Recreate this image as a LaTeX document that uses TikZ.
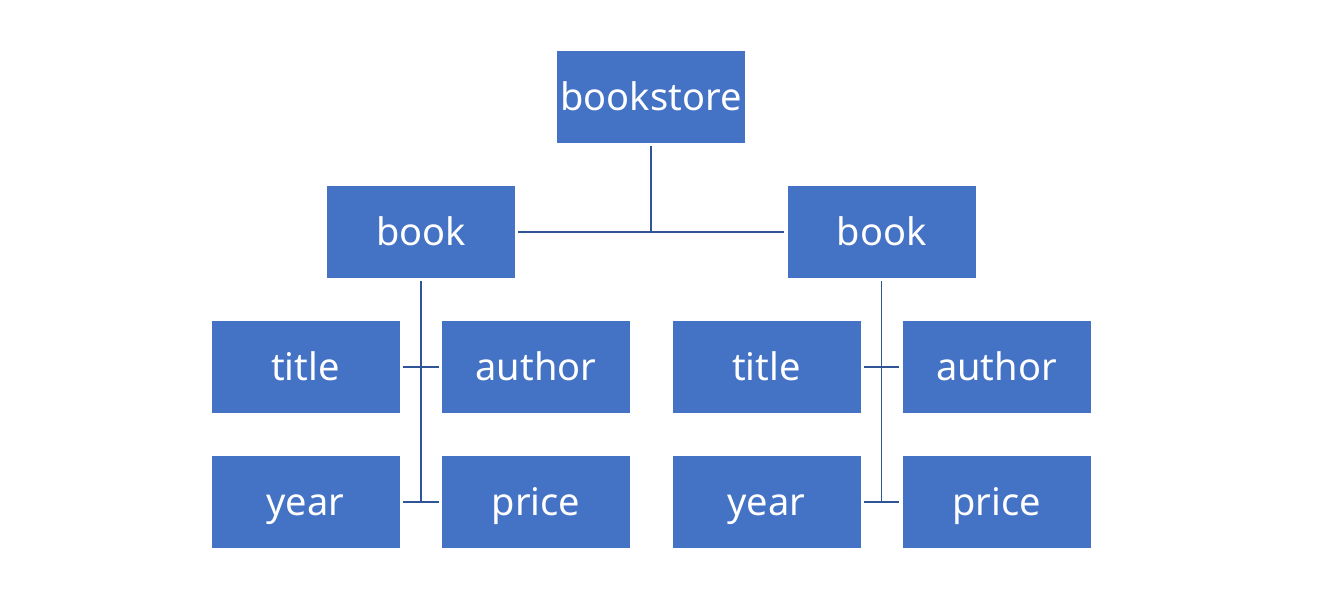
\documentclass[tikz,border=0pt]{standalone}
\usepackage{fontspec}
\setmainfont{Noto Sans}
\usetikzlibrary{positioning}
\definecolor{box-blue}{HTML}{4472C4}
\definecolor{line-blue}{HTML}{2F5597}

\begin{document}
\begin{tikzpicture}[x=1pt, y=-1pt, thick]
    \tikzset{
        elem/.style={fill=box-blue, text=white, minimum width=188pt, minimum height=92pt, inner sep=0pt, text height=31pt, text depth=4pt, font=\fontsize{38}{42}\selectfont},
        link/.style={draw=line-blue, line width=1.8pt}
    }
    \useasboundingbox (0, 0) rectangle (1330, 607);

    \node[elem] (store) at (651, 97) {bookstore};
    \node[elem] (bookL) at (421, 232) {book};
    \node[elem] (bookR) at (881.5, 232) {book};

    \node[elem] (titleL)  at (305.5, 367) {title};
    \node[elem] (authorL) at (536, 367) {author};
    \node[elem] (yearL)   at (305.5, 502) {year};
    \node[elem] (priceL)  at (536, 502) {price};

    \node[elem] (titleR)  at (766.5, 367) {title};
    \node[elem] (authorR) at (996.5, 367) {author};
    \node[elem] (yearR)   at (766.5, 502) {year};
    \node[elem] (priceR)  at (996.5, 502) {price};

    % root to books
    \coordinate (storeJ) at (store.south |- bookL.east) ;
    \draw[link] ([yshift=-3pt]store.south) -- (storeJ);
    \draw[link] ([xshift=3pt]bookL.east) -- ([xshift=-3pt]bookR.west);

    % left book
    \coordinate (bookLE) at (bookL.south |- yearL.east) ;
    \draw[link] ([yshift=-3pt]bookL.south) -- (bookLE);
    \draw[link] ([xshift=3pt]titleL.east) -- ([xshift=-3pt]authorL.west);
    \draw[link] ([xshift=3pt]yearL.east) -- ([xshift=-3pt]priceL.west);

    % right book
    \coordinate (bookRE) at (bookR.south |- yearR.east) ;
    \draw[link] ([yshift=-3pt]bookR.south) -- (bookRE);
    \draw[link] ([xshift=3pt]titleR.east) -- ([xshift=-3pt]authorR.west);
    \draw[link] ([xshift=3pt]yearR.east) -- ([xshift=-3pt]priceR.west);

\end{tikzpicture}
\end{document}
